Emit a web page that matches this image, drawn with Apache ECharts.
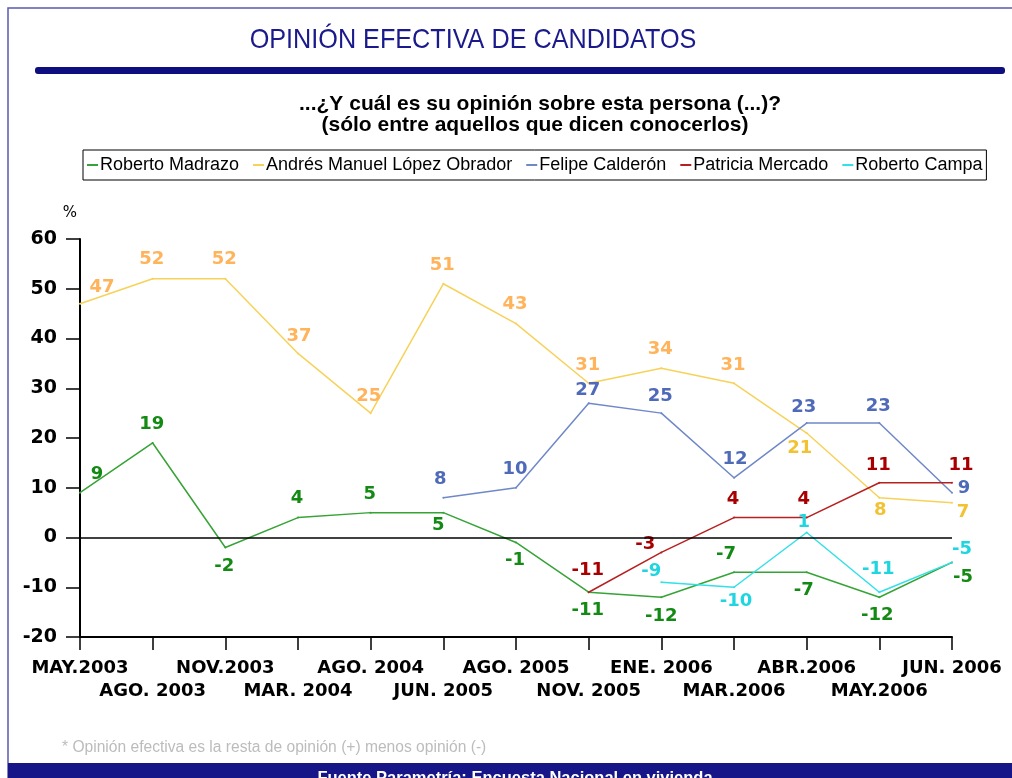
<!DOCTYPE html>
<html>
<head>
<meta charset="utf-8">
<script src="https://cdn.jsdelivr.net/npm/echarts@6/dist/echarts.min.js"></script>
<style>
  html, body { margin: 0; padding: 0; background: #fff; }
  #chart { width: 1012px; height: 778px; }
</style>
</head>
<body>
<div id="chart"></div>
<script>
// categorias (fechas de levantamiento)
var categories = ['MAY.2003', 'AGO. 2003', 'NOV.2003', 'MAR. 2004', 'AGO. 2004', 'JUN. 2005',
  'AGO. 2005', 'NOV. 2005', 'ENE. 2006', 'MAR.2006', 'ABR.2006', 'MAY.2006', 'JUN. 2006'];

var madrazo = [9, 19, -2, 4, 5, 5, -1, -11, -12, -7, -7, -12, -5];
var lopezObrador = [47, 52, 52, 37, 25, 51, 43, 31, 34, 31, 21, 8, 7];
var calderon = [null, null, null, null, null, 8, 10, 27, 25, 12, 23, 23, 9];
var mercado = [null, null, null, null, null, null, null, -11, -3, 4, 4, 11, 11];
var campa = [null, null, null, null, null, null, null, null, -9, -10, 1, -11, -5];

var yTicks = [-20, -10, 0, 10, 20, 30, 40, 50, 60];

// desplazamiento de cada etiqueta respecto a su punto (px)
var offMadrazo = [[18,-17],[0,-18],[0,20],[0,-18],[0,-17],[-4,14],[0,19],[0,19],[1,20],[-7,-17],[-2,19],[-1,19],[12,16]];
var offLopez = [[23,-15],[0,-18],[0,-18],[2,-16],[-1,-16],[0,-17],[0,-18],[0,-17],[0,-18],[0,-17],[-6,16],[2,14],[12,11]];
var offCalderon = [null,null,null,null,null,[-2,-17],[0,-17],[0,-12],[0,-16],[2,-17],[-2,-15],[0,-16],[13,-3]];
var offMercado = [null,null,null,null,null,null,null,[0,-21],[-15,-7],[0,-17],[-2,-17],[0,-16],[10,-16]];
var offCampa = [null,null,null,null,null,null,null,null,[-9,-10],[3,15],[-2,-9],[0,-22],[11,-12]];

var FONT = 'DejaVu Sans';

function build(values, offs, altColor) {
    return values.map(function (v, i) {
        if (v === null) return null;
        var o = offs[i] || [0, -16];
        var item = {
            value: v,
            label: { position: [o[0], o[1]] }
        };
        if (altColor && altColor[i]) item.label.color = altColor[i];
        return item;
    });
}

function lineSeries(name, values, offs, lineColor, labelColor, altColor) {
    return {
        name: name,
        type: 'line',
        data: build(values, offs, altColor),
        symbol: 'circle',
        symbolSize: 2,
        showSymbol: true,
        connectNulls: false,
        color: lineColor,
        lineStyle: { width: 1.5, color: lineColor },
        itemStyle: { color: lineColor },
        label: {
            show: true,
            align: 'center',
            verticalAlign: 'middle',
            color: labelColor,
            fontFamily: FONT,
            fontWeight: 'bold',
            fontSize: 18
        },
        emphasis: { disabled: true }
    };
}

var lopezAlt = [null, null, null, null, null, null, null, null, null, null, '#f2c232', '#f2c232', '#f2c232'];

var chart = echarts.init(document.getElementById('chart'));

var option = {
    animation: false,
    backgroundColor: '#fff',
    grid: { left: 80, right: 60, top: 239, bottom: 141 },
    legend: {
        left: 83,
        top: 150,
        data: ['Roberto Madrazo', 'Andrés Manuel López Obrador', 'Felipe Calderón', 'Patricia Mercado', 'Roberto Campa'],
        icon: 'rect',
        itemWidth: 11,
        itemHeight: 2,
        itemGap: 14,
        padding: [6, 4, 6, 4],
        borderColor: '#000',
        borderWidth: 1,
        textStyle: { fontFamily: 'Liberation Sans', fontSize: 18, color: '#000', padding: [0, 0, 0, -3] }
    },
    xAxis: {
        type: 'category',
        data: categories,
        boundaryGap: false,
        axisLine: { onZero: false, lineStyle: { color: '#000', width: 2 } },
        axisTick: { show: true, length: 13, lineStyle: { color: '#000', width: 1.5 }, interval: 0 },
        axisLabel: {
            interval: 0,
            color: '#000',
            fontFamily: FONT,
            fontWeight: 'bold',
            fontSize: 18,
            lineHeight: 23,
            margin: 20,
            formatter: function (v, i) { return i % 2 ? '\n' + v : v; }
        },
        splitLine: { show: false }
    },
    yAxis: {
        type: 'value',
        min: yTicks[0],
        max: yTicks[yTicks.length - 1],
        interval: 10,
        axisLine: { show: true, lineStyle: { color: '#000', width: 2 } },
        axisTick: { show: true, length: 14, lineStyle: { color: '#000', width: 1.5 } },
        axisLabel: { color: '#000', fontFamily: FONT, fontWeight: 'bold', fontSize: 19, margin: 23 },
        splitLine: { show: false }
    },
    series: [
        lineSeries('Roberto Madrazo', madrazo, offMadrazo, '#36a336', '#138a13'),
        lineSeries('Andrés Manuel López Obrador', lopezObrador, offLopez, '#f7d25a', '#ffb35a', lopezAlt),
        lineSeries('Felipe Calderón', calderon, offCalderon, '#6f88c8', '#4e6ab8'),
        lineSeries('Patricia Mercado', mercado, offMercado, '#b82020', '#a80000'),
        lineSeries('Roberto Campa', campa, offCampa, '#33e0e8', '#1fd6e0')
    ],
    graphic: [
        // marco exterior
        { type: 'rect', shape: { x: 8, y: 8, width: 1012, height: 780 }, style: { fill: 'none', stroke: '#5a5ab0', lineWidth: 1.5 }, silent: true },
        {
            type: 'text', x: 473, y: 40, scaleX: 0.9,
            style: { text: 'OPINIÓN EFECTIVA DE CANDIDATOS', fill: '#1a1a8c', font: '28px "Liberation Sans"', x: 0, y: 0, textAlign: 'center', textVerticalAlign: 'middle' }
        },
        { type: 'rect', shape: { x: 35, y: 67, width: 970, height: 7, r: 3 }, style: { fill: '#0e0e80' }, silent: true },
        {
            type: 'text',
            style: { text: '...¿Y cuál es su opinión sobre esta persona (...)?', x: 540, y: 104, textAlign: 'center', textVerticalAlign: 'middle', fill: '#000', font: 'bold 21px "Liberation Sans"' }
        },
        {
            type: 'text',
            style: { text: '(sólo entre aquellos que dicen conocerlos)', x: 535, y: 125, textAlign: 'center', textVerticalAlign: 'middle', fill: '#000', font: 'bold 21px "Liberation Sans"' }
        },
        {
            type: 'text',
            style: { text: '%', x: 70, y: 213, textAlign: 'center', textVerticalAlign: 'middle', fill: '#000', font: '15px "DejaVu Sans"' }
        },
        {
            type: 'text',
            style: { text: '* Opinión efectiva es la resta de opinión (+) menos opinión (-)', x: 62, y: 748, textAlign: 'left', textVerticalAlign: 'middle', fill: '#bcbcbc', font: '15.6px "Liberation Sans"' }
        },
        { type: 'rect', shape: { x: 8, y: 763, width: 1004, height: 15 }, style: { fill: '#161688' }, silent: true },
        {
            type: 'text',
            style: { text: 'Fuente Parametría: Encuesta Nacional en vivienda', x: 515, y: 778, textAlign: 'center', textVerticalAlign: 'middle', fill: '#fff', font: 'bold 16.5px "Liberation Sans"' }
        }
    ]
};

// linea del cero
option.series[0].markLine = {
    silent: true,
    symbol: 'none',
    label: { show: false },
    lineStyle: { color: '#000', width: 1.5, type: 'solid' },
    data: [{ yAxis: 0 }]
};

chart.setOption(option);
</script>
</body>
</html>
